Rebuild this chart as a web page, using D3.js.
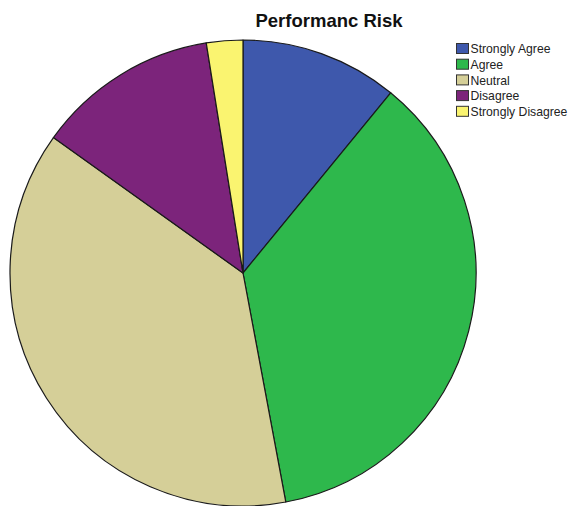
<!DOCTYPE html>
<html>
<head>
<meta charset="utf-8">
<script src="https://cdn.jsdelivr.net/npm/d3@7"></script>
<style>
  html, body { margin: 0; padding: 0; background: #fff; }
  svg { display: block; }
</style>
</head>
<body>
<svg id="chart" width="573" height="506"></svg>
<script>
// Response counts per answer category
const categories = ["Strongly Agree", "Agree", "Neutral", "Disagree", "Strongly Disagree"];
const counts = [13, 43, 45, 15, 3];
const colors = ["#3e58ac", "#2eb84c", "#d5cf98", "#7c247b", "#faf470"];
const title = "Performanc Risk";

const svg = d3.select("#chart");
const cx = 243, cy = 273, r = 233;

const data = categories.map((c, i) => ({ category: c, count: counts[i], color: colors[i] }));

const pie = d3.pie().value(d => d.count).sort(null);
const arc = d3.arc().innerRadius(0).outerRadius(r);

const g = svg.append("g").attr("transform", `translate(${cx},${cy})`);
g.selectAll("path")
  .data(pie(data))
  .join("path")
  .attr("d", arc)
  .attr("fill", d => d.data.color)
  .attr("stroke", "#1a1a1a")
  .attr("stroke-width", 1.2)
  .attr("stroke-linejoin", "round");

svg.append("text")
  .attr("x", 329)
  .attr("y", 27)
  .attr("text-anchor", "middle")
  .attr("font-family", "Liberation Sans, Arial, sans-serif")
  .attr("font-weight", "bold")
  .attr("font-size", 18.5)
  .attr("fill", "#111")
  .text(title);

// Legend
const legendY = d3.scaleBand().domain(categories).range([40, 118.5]).paddingInner(0);
const legend = svg.append("g");
const rows = legend.selectAll("g")
  .data(data)
  .join("g")
  .attr("transform", d => `translate(456,${legendY(d.category)})`);
rows.append("rect")
  .attr("x", 0.5).attr("y", 3.5)
  .attr("width", 12).attr("height", 10)
  .attr("fill", d => d.color)
  .attr("stroke", "#333")
  .attr("stroke-width", 1);
rows.append("text")
  .attr("x", 14.5)
  .attr("y", 13.2)
  .attr("font-family", "Liberation Sans, Arial, sans-serif")
  .attr("font-size", 12.2)
  .attr("fill", "#222")
  .text(d => d.category);
</script>
</body>
</html>
